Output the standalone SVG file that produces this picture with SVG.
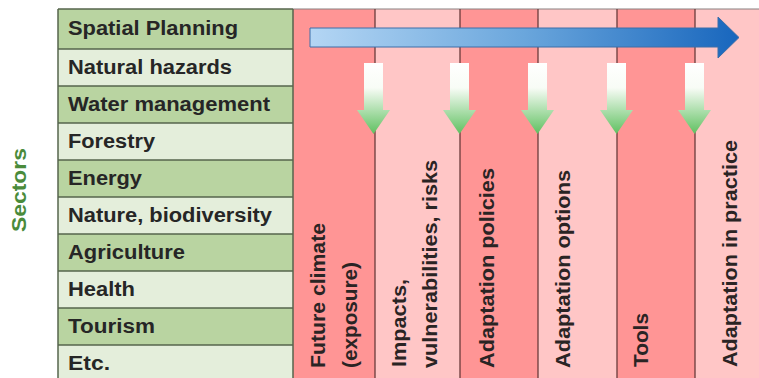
<svg xmlns="http://www.w3.org/2000/svg" width="759" height="378" viewBox="0 0 759 378">
<defs>
<style>
.rt{font-family:"Liberation Sans",Arial,sans-serif;font-weight:bold;font-size:20px;fill:#262626}
.vt{font-family:"Liberation Sans",Arial,sans-serif;font-weight:bold;font-size:20px;fill:#2a2424}
.dg{fill:#b9d4a1}
.lg{fill:#e4eedb}
.dr{fill:#ff9595}
.lr{fill:#ffc6c6}
.rowline{stroke:#56654c;stroke-width:1.5}
.colline{stroke:#6a3b3b;stroke-width:1.3}
.garrow{fill:url(#gg)}
</style>
<linearGradient id="bg" x1="0" y1="0" x2="1" y2="0">
<stop offset="0" stop-color="#b4d6f4"/>
<stop offset="0.5" stop-color="#6aa6dc"/>
<stop offset="1" stop-color="#1866bd"/>
</linearGradient>
<linearGradient id="gg" x1="0" y1="0" x2="0" y2="1">
<stop offset="0" stop-color="#ffffff"/>
<stop offset="0.35" stop-color="#f8fcf6"/>
<stop offset="1" stop-color="#5fc060"/>
</linearGradient>
</defs>
<rect x="0" y="0" width="759" height="378" fill="#ffffff"/>

<g id="sectors-label">
<text class="rt" transform="translate(26,232) rotate(-90)" style="fill:#4a8b3b" textLength="84" lengthAdjust="spacingAndGlyphs">Sectors</text>
</g>

<g id="columns">
<rect class="dr" x="293" y="9" width="82" height="369"/>
<rect class="lr" x="375" y="9" width="85" height="369"/>
<rect class="dr" x="460" y="9" width="78" height="369"/>
<rect class="lr" x="538" y="9" width="79" height="369"/>
<rect class="dr" x="617" y="9" width="78" height="369"/>
<rect class="lr" x="695" y="9" width="64" height="369"/>
<line x1="293" y1="9" x2="759" y2="9" stroke="#8a8080" stroke-width="1.2"/>
<line class="colline" x1="375" y1="9" x2="375" y2="378"/>
<line class="colline" x1="460" y1="9" x2="460" y2="378"/>
<line class="colline" x1="538" y1="9" x2="538" y2="378"/>
<line class="colline" x1="617" y1="9" x2="617" y2="378"/>
<line class="colline" x1="695" y1="9" x2="695" y2="378"/>
</g>

<g id="sector-rows">
<rect class="dg" x="58" y="9" width="235" height="40"/>
<rect class="lg" x="58" y="49" width="235" height="37"/>
<rect class="dg" x="58" y="86" width="235" height="37"/>
<rect class="lg" x="58" y="123" width="235" height="37"/>
<rect class="dg" x="58" y="160" width="235" height="37"/>
<rect class="lg" x="58" y="197" width="235" height="37"/>
<rect class="dg" x="58" y="234" width="235" height="37"/>
<rect class="lg" x="58" y="271" width="235" height="37"/>
<rect class="dg" x="58" y="308" width="235" height="37"/>
<rect class="lg" x="58" y="345" width="235" height="33"/>
<line class="rowline" x1="58" y1="9" x2="293" y2="9"/>
<line class="rowline" x1="58" y1="49" x2="293" y2="49"/>
<line class="rowline" x1="58" y1="86" x2="293" y2="86"/>
<line class="rowline" x1="58" y1="123" x2="293" y2="123"/>
<line class="rowline" x1="58" y1="160" x2="293" y2="160"/>
<line class="rowline" x1="58" y1="197" x2="293" y2="197"/>
<line class="rowline" x1="58" y1="234" x2="293" y2="234"/>
<line class="rowline" x1="58" y1="271" x2="293" y2="271"/>
<line class="rowline" x1="58" y1="308" x2="293" y2="308"/>
<line class="rowline" x1="58" y1="345" x2="293" y2="345"/>
<line class="rowline" x1="58" y1="9" x2="58" y2="378"/>
<line class="rowline" x1="293" y1="9" x2="293" y2="378"/>
<text class="rt" x="68" y="35" textLength="170" lengthAdjust="spacingAndGlyphs">Spatial Planning</text>
<text class="rt" x="68" y="73.5" textLength="164" lengthAdjust="spacingAndGlyphs">Natural hazards</text>
<text class="rt" x="68" y="110.5" textLength="202" lengthAdjust="spacingAndGlyphs">Water management</text>
<text class="rt" x="68" y="147.5" textLength="87" lengthAdjust="spacingAndGlyphs">Forestry</text>
<text class="rt" x="68" y="184.5" textLength="74" lengthAdjust="spacingAndGlyphs">Energy</text>
<text class="rt" x="68" y="221.5" textLength="204" lengthAdjust="spacingAndGlyphs">Nature, biodiversity</text>
<text class="rt" x="68" y="258.5" textLength="117" lengthAdjust="spacingAndGlyphs">Agriculture</text>
<text class="rt" x="68" y="295.5" textLength="67" lengthAdjust="spacingAndGlyphs">Health</text>
<text class="rt" x="68" y="332.5" textLength="87" lengthAdjust="spacingAndGlyphs">Tourism</text>
<text class="rt" x="68" y="369.5" textLength="42" lengthAdjust="spacingAndGlyphs">Etc.</text>
</g>

<g id="column-labels">
<text class="vt" transform="translate(325,368) rotate(-90)" textLength="145" lengthAdjust="spacingAndGlyphs">Future climate</text>
<text class="vt" transform="translate(357,368) rotate(-90)" textLength="106" lengthAdjust="spacingAndGlyphs">(exposure)</text>
<text class="vt" transform="translate(406,367) rotate(-90)" textLength="88" lengthAdjust="spacingAndGlyphs">Impacts,</text>
<text class="vt" transform="translate(437,368) rotate(-90)" textLength="208" lengthAdjust="spacingAndGlyphs">vulnerabilities, risks</text>
<text class="vt" transform="translate(494,368) rotate(-90)" textLength="200" lengthAdjust="spacingAndGlyphs">Adaptation policies</text>
<text class="vt" transform="translate(570,368) rotate(-90)" textLength="198" lengthAdjust="spacingAndGlyphs">Adaptation options</text>
<text class="vt" transform="translate(648,367) rotate(-90)" textLength="54" lengthAdjust="spacingAndGlyphs">Tools</text>
<text class="vt" transform="translate(737,367) rotate(-90)" textLength="227" lengthAdjust="spacingAndGlyphs">Adaptation in practice</text>
</g>

<g id="connectors">
<path d="M310,28 L718,28 L718,17 L739,37.5 L718,58 L718,47 L310,47 Z" fill="url(#bg)" stroke="#3d6fa8" stroke-width="1"/>
<path class="garrow" d="M364,63 L383,63 L383,110 L390,110 L373.5,134 L357,110 L364,110 Z"/>
<path class="garrow" d="M450,63 L469,63 L469,110 L476,110 L459.5,134 L443,110 L450,110 Z"/>
<path class="garrow" d="M528,63 L547,63 L547,110 L554,110 L537.5,134 L521,110 L528,110 Z"/>
<path class="garrow" d="M607,63 L626,63 L626,110 L633,110 L616.5,134 L600,110 L607,110 Z"/>
<path class="garrow" d="M685,63 L704,63 L704,110 L711,110 L694.5,134 L678,110 L685,110 Z"/>
</g>
</svg>
